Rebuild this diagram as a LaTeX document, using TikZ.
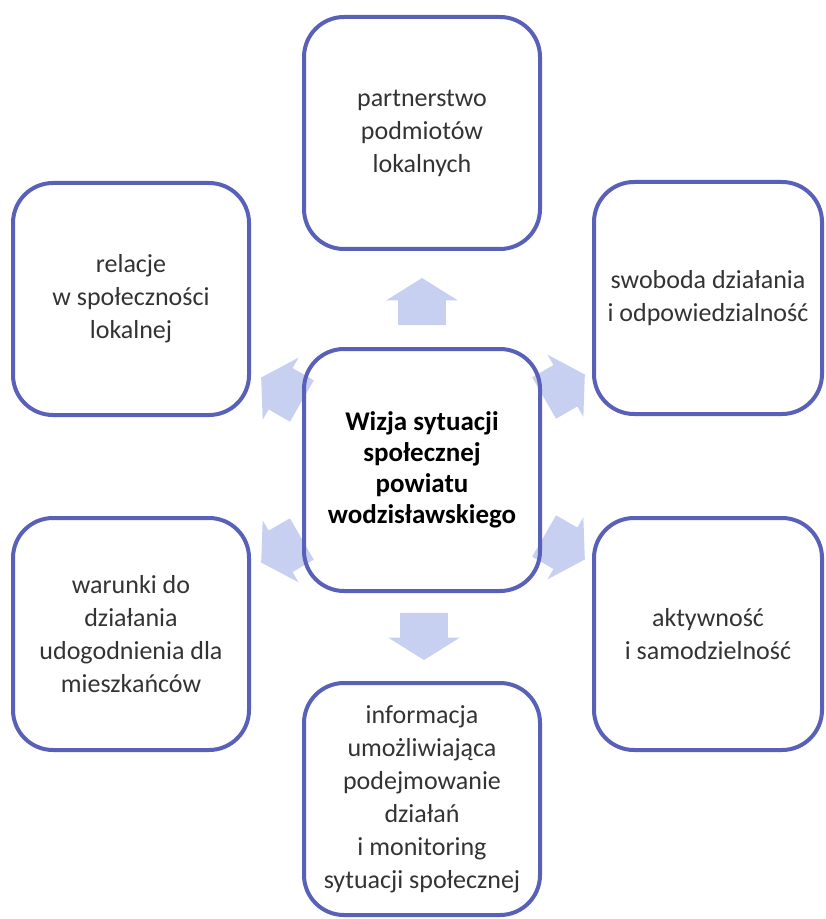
\documentclass[tikz,border=0pt]{standalone}
\usepackage{fontspec}
\setmainfont{Carlito}
\usepackage{xcolor}
\usetikzlibrary{shapes.arrows, positioning}

\definecolor{frameblue}{RGB}{88,96,184}
\definecolor{arrowblue}{RGB}{200,208,242}

\begin{document}
\begin{tikzpicture}[
    x=0.5pt, y=-0.5pt,
    box/.style={draw=frameblue, line width=2pt, rounded corners=20pt, minimum width=118pt, minimum height=116pt, align=center, inner sep=2pt, text=black!80, font=\fontsize{13}{16.5}\selectfont},
    hubbox/.style={box, minimum height=121pt, text=black, font=\fontsize{13.5}{15.5}\selectfont\bfseries},
    blockarrow/.style={single arrow, fill=arrowblue, draw=none, inner xsep=0pt, inner ysep=11.75pt, minimum height=23.5pt, single arrow head extend=6pt, single arrow tip angle=116}
]
    \useasboundingbox (0,0) rectangle (825,919);

    % block arrows (under the boxes)
    \node[blockarrow, rotate=90] (a-partners) at (422,309) {};
    \node[blockarrow, rotate=-90] (a-info) at (424,629) {};
    \node[blockarrow, rotate=150] (a-relations) at (288,393) {};
    \node[blockarrow, rotate=30] (a-freedom) at (558,390) {};
    \node[blockarrow, rotate=210] (a-conditions) at (288,547) {};
    \node[blockarrow, rotate=-30] (a-activity) at (558,544) {};

    \node[hubbox] (vision) at (422,470) {Wizja sytuacji \\ społecznej \\ powiatu \\ wodzisławskiego};
    \node[box] (partners) at (422,133) {partnerstwo \\ podmiotów \\ lokalnych};
    \node[box] (relations) at (131,299) {relacje \\ w społeczności \\ lokalnej};
    \node[box, minimum width=114pt] (freedom) at (708,298) {swoboda działania \\ i odpowiedzialność};
    \node[box] (conditions) at (131,634) {warunki do \\ działania \\ udogodnienia dla \\ mieszkańców};
    \node[box, minimum width=114pt] (activity) at (708,634) {aktywność \\ i samodzielność};
    \node[box] (info) at (422,799) {informacja \\ umożliwiająca \\ podejmowanie \\ działań \\ i monitoring \\ sytuacji społecznej};

\end{tikzpicture}
\end{document}
